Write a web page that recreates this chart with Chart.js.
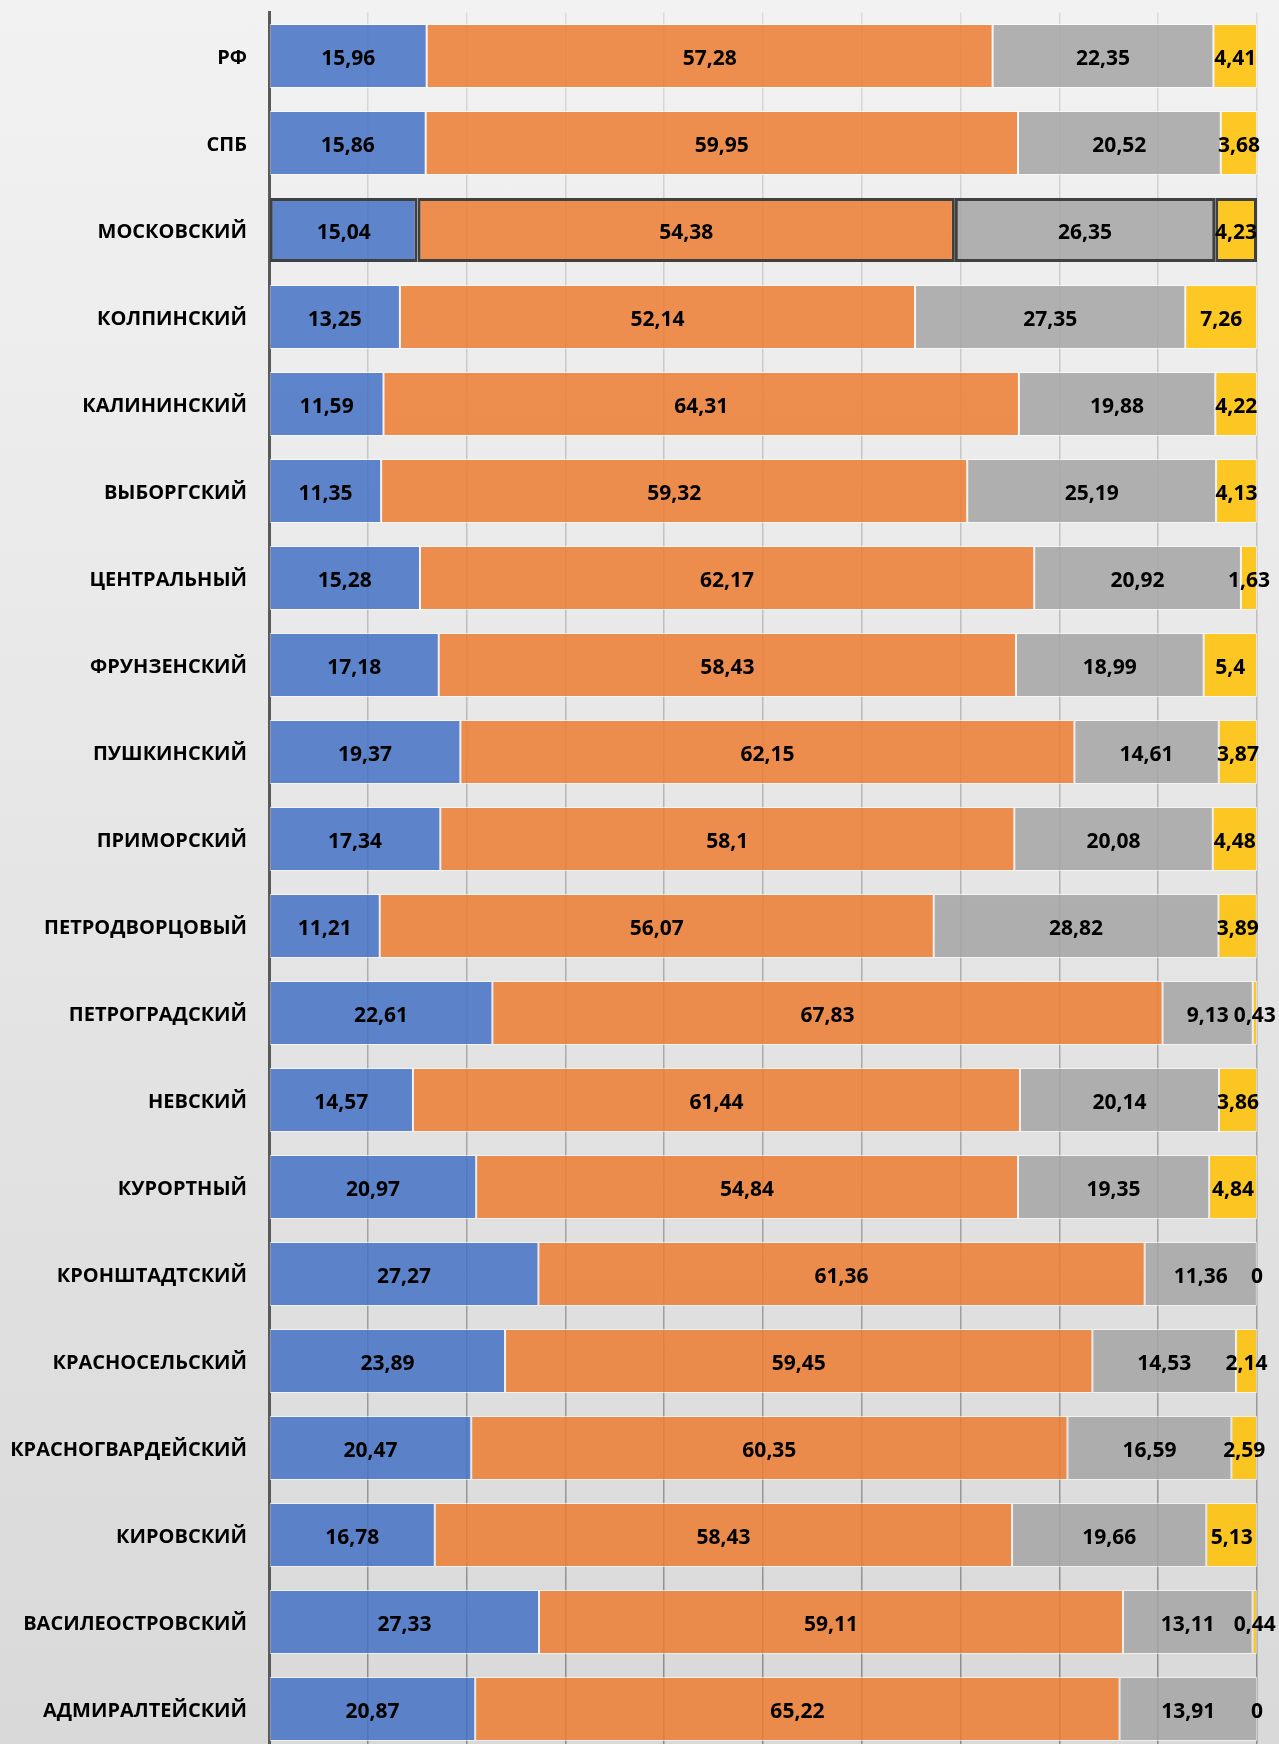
<!DOCTYPE html>
<html lang="ru">
<head>
  <meta charset="UTF-8">
  <title>Районы</title>
  <script src="https://cdn.jsdelivr.net/npm/chart.js"></script>
  <style>
    html, body {
      margin: 0;
      padding: 0;
      overflow: hidden;
    }
    body {
      width: 1279px;
      height: 1744px;
      background: linear-gradient(to bottom, #f2f2f2, #d9d9d9);
    }
    canvas {
      display: block;
    }
  </style>
</head>
<body>

  <canvas id="myChart" width="1279" height="1760"></canvas>

  <script>
    // districts, top to bottom
    const districts = ['РФ', 'СПБ', 'МОСКОВСКИЙ', 'КОЛПИНСКИЙ', 'КАЛИНИНСКИЙ', 'ВЫБОРГСКИЙ',
      'ЦЕНТРАЛЬНЫЙ', 'ФРУНЗЕНСКИЙ', 'ПУШКИНСКИЙ', 'ПРИМОРСКИЙ', 'ПЕТРОДВОРЦОВЫЙ',
      'ПЕТРОГРАДСКИЙ', 'НЕВСКИЙ', 'КУРОРТНЫЙ', 'КРОНШТАДТСКИЙ', 'КРАСНОСЕЛЬСКИЙ',
      'КРАСНОГВАРДЕЙСКИЙ', 'КИРОВСКИЙ', 'ВАСИЛЕОСТРОВСКИЙ', 'АДМИРАЛТЕЙСКИЙ'];

    // four shares per district, %
    const seriesBlue = [15.96, 15.86, 15.04, 13.25, 11.59, 11.35, 15.28, 17.18, 19.37, 17.34,
      11.21, 22.61, 14.57, 20.97, 27.27, 23.89, 20.47, 16.78, 27.33, 20.87];
    const seriesOrange = [57.28, 59.95, 54.38, 52.14, 64.31, 59.32, 62.17, 58.43, 62.15, 58.1,
      56.07, 67.83, 61.44, 54.84, 61.36, 59.45, 60.35, 58.43, 59.11, 65.22];
    const seriesGray = [22.35, 20.52, 26.35, 27.35, 19.88, 25.19, 20.92, 18.99, 14.61, 20.08,
      28.82, 9.13, 20.14, 19.35, 11.36, 14.53, 16.59, 19.66, 13.11, 13.91];
    const seriesYellow = [4.41, 3.68, 4.23, 7.26, 4.22, 4.13, 1.63, 5.4, 3.87, 4.48,
      3.89, 0.43, 3.86, 4.84, 0, 2.14, 2.59, 5.13, 0.44, 0];

    const highlighted = 2; // МОСКОВСКИЙ is outlined

    Chart.defaults.font.family = "'Open Sans', sans-serif";
    Chart.defaults.font.weight = 'bold';
    Chart.defaults.font.size = 20;
    Chart.defaults.color = '#000';

    function makeSet(values, color) {
      return {
        data: values,
        backgroundColor: color,
        borderColor: c => c.dataIndex === highlighted ? '#404040' : 'rgba(255,255,255,0.6)',
        borderWidth: c => c.dataIndex === highlighted ? 3 : 1,
        borderSkipped: false,
        barPercentage: 0.736,
        categoryPercentage: 1
      };
    }

    // value labels in the middle of each segment
    const centerLabels = {
      id: 'centerLabels',
      afterDatasetsDraw(chart) {
        const ctx = chart.ctx;
        ctx.save();
        ctx.font = "bold 21px 'Open Sans', sans-serif";
        ctx.fillStyle = '#000';
        ctx.textAlign = 'center';
        ctx.textBaseline = 'middle';
        chart.data.datasets.forEach((ds, i) => {
          chart.getDatasetMeta(i).data.forEach((bar, j) => {
            const txt = String(ds.data[j]).replace('.', ',');
            ctx.fillText(txt, (bar.x + bar.base) / 2, bar.y + 3);
          });
        });
        ctx.restore();
      }
    };

    const gridColor = c => {
      const a = c.chart.chartArea;
      if (!a) return '#cccccc';
      const g = c.chart.ctx.createLinearGradient(0, a.top, 0, a.bottom);
      g.addColorStop(0, '#dadada');
      g.addColorStop(1, '#8a8a8a');
      return g;
    };

    function noPadding(s) {
      s.paddingTop = 0;
      s.paddingBottom = 0;
      s.paddingLeft = 0;
      s.paddingRight = 0;
    }

    const myChart = new Chart(document.getElementById('myChart'), {
      type: 'bar',
      data: {
        labels: districts,
        datasets: [
          makeSet(seriesBlue, 'rgba(68,114,196,0.85)'),
          makeSet(seriesOrange, 'rgba(237,125,49,0.85)'),
          makeSet(seriesGray, 'rgba(165,165,165,0.85)'),
          makeSet(seriesYellow, 'rgba(255,192,0,0.85)')
        ]
      },
      options: {
        indexAxis: 'y',
        responsive: false,
        animation: false,
        layout: {
          padding: { top: 12.5, right: 22, bottom: 7.5, left: 0 }
        },
        plugins: {
          legend: { display: false },
          tooltip: { enabled: false }
        },
        scales: {
          x: {
            stacked: true,
            min: 0,
            max: 100,
            ticks: { display: false, stepSize: 10 },
            grid: { color: gridColor, lineWidth: 1.5, drawTicks: false },
            border: { display: false },
            afterFit: s => { s.height = 0; noPadding(s); }
          },
          y: {
            stacked: true,
            grid: { display: false, drawTicks: false },
            border: { display: true, color: '#595959', width: 3 },
            ticks: { padding: 22, labelOffset: 2, color: '#000', font: { size: 20, weight: 'bold' } },
            afterFit: s => { s.width = 269; noPadding(s); }
          }
        }
      },
      plugins: [centerLabels]
    });
  </script>

</body>
</html>
